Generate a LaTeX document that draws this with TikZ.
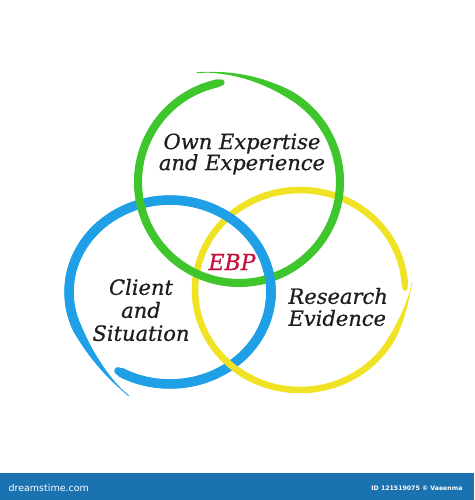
\documentclass[tikz,border=0pt]{standalone}
\usepackage{fontspec}
\setmainfont{DejaVu Serif}
\newfontfamily\inkfont{DejaVu Serif}[FakeBold=0.7]
\newfontfamily\bannerfont{DejaVu Sans}
\usetikzlibrary{positioning}
\definecolor{ringgreen}{HTML}{3EC62C}
\definecolor{ringblue}{HTML}{1FA0E6}
\definecolor{ringyellow}{HTML}{F0E224}
\definecolor{ebpred}{HTML}{C4103A}
\definecolor{inkgray}{HTML}{1E1E1E}
\definecolor{bannerblue}{HTML}{1B72B0}

% brush stroke ring: colour, x radius, y radius, start angle, end angle,
% tail length (deg), tail offset (fraction), width
\newcommand{\brushring}[8]{%
  \pgfmathsetmacro{\brsweep}{abs(#5-#4)}
  \foreach \k in {0,...,184}{
    \pgfmathsetmacro{\brt}{\k/185}
    \pgfmathsetmacro{\brtt}{(\k+1)/185}
    \pgfmathsetmacro{\bra}{#4+(#5-#4)*\brt}
    \pgfmathsetmacro{\brb}{#4+(#5-#4)*\brtt}
    \pgfmathsetmacro{\brs}{\brsweep*\brt}
    \pgfmathsetmacro{\brss}{\brsweep*\brtt}
    \pgfmathsetmacro{\brfa}{1+#7*(max(0,1-\brs/#6))^2}
    \pgfmathsetmacro{\brfb}{1+#7*(max(0,1-\brss/#6))^2}
    \pgfmathsetmacro{\brw}{#8*max(0.1,min(1,\brs/#6))*min(1,0.6+(\brsweep-\brs)/10)}
    \draw[#1, line width=\brw pt, line cap=round]
      (\bra:{#2*\brfa} and {#3*\brfa}) -- (\brb:{#2*\brfb} and {#3*\brfb});
  }}

\begin{document}
\begin{tikzpicture}[
    x=1pt, y=1pt,
    lbl/.style={font=\inkfont\itshape\fontsize{21}{#1}\selectfont, text=inkgray},
    lbl/.default=21
]
\useasboundingbox (0,0) rectangle (474,500);

% rings
\begin{scope}[shift={(300,210)}]
  \brushring{ringyellow}{105}{100}{4}{-359}{30}{0.07}{6.5}
\end{scope}
\begin{scope}[shift={(170,208)}]
  \brushring{ringblue}{101}{92}{250}{-121}{45}{0.2}{9.5}
\end{scope}
\begin{scope}[shift={(239,318)}]
  \brushring{ringgreen}{101}{101}{111}{-260}{50}{0.16}{8}
\end{scope}
% blue over green, yellow over blue
\begin{scope}
  \clip (256,196) rectangle (290,234);
  \begin{scope}[shift={(170,208)}]
    \brushring{ringblue}{101}{92}{250}{-121}{45}{0.2}{9.5}
  \end{scope}
\end{scope}
\begin{scope}
  \clip (205,108) rectangle (256,152);
  \begin{scope}[shift={(300,210)}]
    \brushring{ringyellow}{105}{100}{4}{-359}{30}{0.07}{6.5}
  \end{scope}
\end{scope}

% labels
\node[lbl, align=center] (own) at (242,346) {Own Expertise\\and Experience};
\node[font=\inkfont\itshape\fontsize{22}{22}\selectfont, text=ebpred] (ebp) at (232,238) {EBP};
\node[lbl=23, align=center] (client) at (141,190) {Client\\and\\Situation};
\node[lbl=22, align=left, anchor=west] (research) at (285,193) {Research\\Evidence};

% banner
\fill[bannerblue] (0,0) rectangle (474,27);
\node[font=\bannerfont\fontsize{9.5}{9.5}\selectfont, text=white, anchor=west] (site) at (5,12) {dreamstime.com};
\node[font=\bannerfont\bfseries\fontsize{6.2}{6.2}\selectfont, text=white, anchor=east] (credit) at (466,12) {ID 121519075 © Vaeenma};
\end{tikzpicture}
\end{document}
